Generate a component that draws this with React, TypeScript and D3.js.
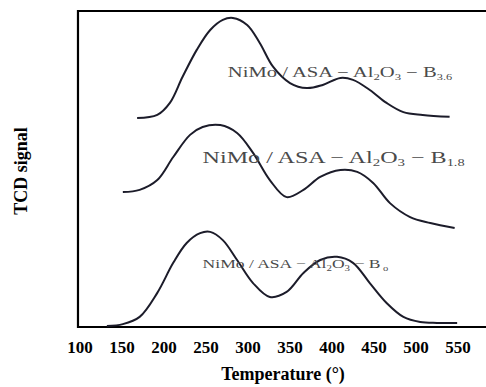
import React from 'react';
import * as d3 from 'd3';

// Temperature (°C) readings and TCD signal (arbitrary units, 0-100 frame height)
const tempsB0 = [132, 151, 171, 192, 211, 227, 243, 255, 270, 287, 306, 326, 346, 366, 386, 406, 425, 445, 465, 485, 505, 525, 549];
const signalB0 = [0.3, 0.9, 3.2, 10.8, 20.3, 26.6, 29.7, 30.1, 27.5, 21.2, 13.9, 9.5, 11.1, 17.1, 21.2, 22.2, 20.3, 13.9, 7.6, 3.2, 1.6, 1.3, 1.3];

const tempsB18 = [151, 171, 192, 211, 231, 246, 267, 287, 306, 326, 346, 366, 386, 410, 430, 449, 469, 493, 517, 546];
const signalB18 = [42.7, 43.4, 46.5, 53.8, 60.8, 63.3, 63.9, 61.4, 55.1, 46.5, 41.1, 43.4, 47.5, 49.7, 49.1, 45.6, 39.2, 34.8, 32.9, 31.3];

const tempsB36 = [168, 192, 207, 222, 239, 255, 270, 282, 299, 314, 330, 350, 370, 389, 410, 425, 445, 465, 485, 508, 540];
const signalB36 = [66.1, 67.1, 70.9, 79.1, 87.7, 94.0, 97.2, 97.8, 95.6, 89.9, 82.3, 77.2, 75.6, 76.6, 78.8, 78.2, 75.0, 70.9, 68.0, 67.1, 66.5];

const xTicks = [100, 150, 200, 250, 300, 350, 400, 450, 500, 550];

// sample labels: subscript, anchor (temperature, signal), start/end temperature of the text
const labels = [
  { sub: '3.6', t: 276, v: 79.0, tEnd: 543, size: 14 },
  { sub: '1.8', t: 246, v: 51.9, tEnd: 558, size: 16 },
  { sub: ' o', t: 246, v: 18.7, tEnd: 467, size: 12.5 },
];

const W = 486;
const H = 387;
const serif = "'Liberation Serif', 'Times New Roman', Times, serif";

export default function App() {
  const x = d3.scaleLinear().domain([100, 550]).range([80, 458]);
  const y = d3.scaleLinear().domain([0, 100]).range([327, 11]);

  const line = d3
    .line<[number, number]>()
    .x(d => x(d[0]))
    .y(d => y(d[1]))
    .curve(d3.curveCatmullRom.alpha(0.5));

  const series = [
    d3.zip(tempsB0, signalB0) as [number, number][],
    d3.zip(tempsB18, signalB18) as [number, number][],
    d3.zip(tempsB36, signalB36) as [number, number][],
  ];

  const left = x(97.6);
  const top = y(100);
  const bottom = y(0);

  return (
    <svg
      width={W}
      height={H}
      style={{ position: 'absolute', left: 0, top: 0, background: '#fff', fontFamily: serif }}
    >
      {/* frame */}
      <path
        d={`M${W},${top}H${left}V${bottom}H${W}`}
        fill="none"
        stroke="#000"
        strokeWidth={2.2}
      />

      {series.map((s, i) => (
        <path key={i} d={line(s) || ''} fill="none" stroke="#1c1c2a" strokeWidth={2} />
      ))}

      {labels.map((l, i) => (
        <text
          key={i}
          x={x(l.t)}
          y={y(l.v)}
          fontSize={l.size}
          fill="#4a4a4a"
          textLength={x(l.tEnd) - x(l.t)}
          lengthAdjust="spacingAndGlyphs"
          style={{ fontFamily: serif }}
        >
          NiMo / ASA − Al
          <tspan fontSize={l.size * 0.62} dy={3}>2</tspan>
          <tspan dy={-3}>O</tspan>
          <tspan fontSize={l.size * 0.62} dy={3}>3</tspan>
          <tspan dy={-3}> − B</tspan>
          <tspan fontSize={l.size * 0.6} dy={3}>{l.sub}</tspan>
        </text>
      ))}

      {xTicks.map(t => (
        <text
          key={t}
          x={x(t)}
          y={353}
          textAnchor="middle"
          fontSize={17}
          fontWeight="bold"
          style={{ fontFamily: serif }}
        >
          {t}
        </text>
      ))}

      <text
        x={283}
        y={380}
        textAnchor="middle"
        fontSize={18}
        fontWeight="bold"
        style={{ fontFamily: serif }}
      >
        Temperature (°)
      </text>
      <text
        transform={`translate(27,171) rotate(-90)`}
        textAnchor="middle"
        fontSize={18}
        fontWeight="bold"
        style={{ fontFamily: serif }}
      >
        TCD signal
      </text>
    </svg>
  );
}
